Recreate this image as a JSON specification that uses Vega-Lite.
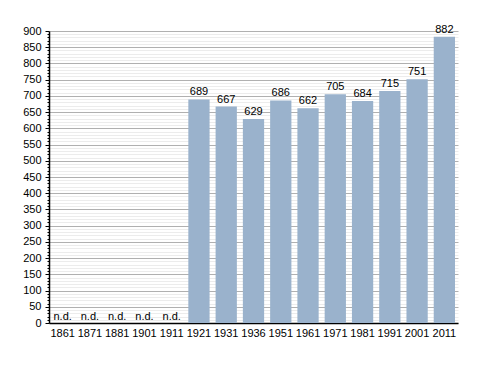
{
  "$schema": "https://vega.github.io/schema/vega-lite/v6.json",
  "width": 409,
  "height": 292,
  "autosize": {"type": "none"},
  "padding": {"left": 49, "top": 31, "right": 30, "bottom": 50},
  "background": "white",
  "config": {
    "view": {"stroke": null},
    "font": "Liberation Sans",
    "axis": {"labelFont": "Liberation Sans", "labelFontSize": 11, "labelColor": "#000"}
  },
  "data": {
    "values": [
      {"year": "1921", "value": 689, "label": "689"},
      {"year": "1931", "value": 667, "label": "667"},
      {"year": "1936", "value": 629, "label": "629"},
      {"year": "1951", "value": 686, "label": "686"},
      {"year": "1961", "value": 662, "label": "662"},
      {"year": "1971", "value": 705, "label": "705"},
      {"year": "1981", "value": 684, "label": "684"},
      {"year": "1991", "value": 715, "label": "715"},
      {"year": "2001", "value": 751, "label": "751"},
      {"year": "2011", "value": 882, "label": "882"}
    ]
  },
  "resolve": {"scale": {"y": "shared"}, "axis": {"y": "independent"}},
  "encoding": {
    "x": {
      "field": "year", "type": "ordinal",
      "scale": {"domain": ["1861","1871","1881","1901","1911","1921","1931","1936","1951","1961","1971","1981","1991","2001","2011"], "paddingInner": 0.22, "paddingOuter": 0.11},
      "axis": {"title": null, "labelAngle": 0, "ticks": false, "domainColor": "#000", "domainWidth": 1.5, "labelPadding": 4}
    }
  },
  "layer": [
    {
      "mark": {"type": "bar", "color": "#9ab2cc"},
      "encoding": {
        "y": {
          "field": "value", "type": "quantitative",
          "scale": {"domain": [0, 900], "nice": false},
          "axis": {
            "title": null,
            "values": [0,10,20,30,40,50,60,70,80,90,100,110,120,130,140,150,160,170,180,190,200,210,220,230,240,250,260,270,280,290,300,310,320,330,340,350,360,370,380,390,400,410,420,430,440,450,460,470,480,490,500,510,520,530,540,550,560,570,580,590,600,610,620,630,640,650,660,670,680,690,700,710,720,730,740,750,760,770,780,790,800,810,820,830,840,850,860,870,880,890,900],
            "labelExpr": "datum.value % 50 === 0 ? datum.label : ''",
            "grid": true,
            "gridColor": {"condition": {"test": "datum.value % 50 === 0", "value": "#b0b0b0"}, "value": "#ececec"},
            "gridWidth": 1,
            "tickColor": "#000",
            "tickSize": {"condition": {"test": "datum.value % 50 === 0", "value": 4}, "value": 2},
            "domainColor": "#000",
            "domainWidth": 1.5,
            "labelPadding": 4,
            "labelOverlap": false
          }
        }
      }
    },
    {
      "mark": {"type": "text", "baseline": "bottom", "dy": -2, "fontSize": 11, "color": "#000"},
      "encoding": {
        "y": {"field": "value", "type": "quantitative", "axis": null},
        "text": {"field": "label"}
      }
    },
    {
      "data": {
        "values": [
          {"year": "1861", "label": "n.d."},
          {"year": "1871", "label": "n.d."},
          {"year": "1881", "label": "n.d."},
          {"year": "1901", "label": "n.d."},
          {"year": "1911", "label": "n.d."}
        ]
      },
      "mark": {"type": "text", "baseline": "bottom", "dy": -1, "fontSize": 11, "color": "#000"},
      "encoding": {
        "y": {"datum": 0, "type": "quantitative", "axis": null},
        "text": {"field": "label"}
      }
    }
  ]
}
